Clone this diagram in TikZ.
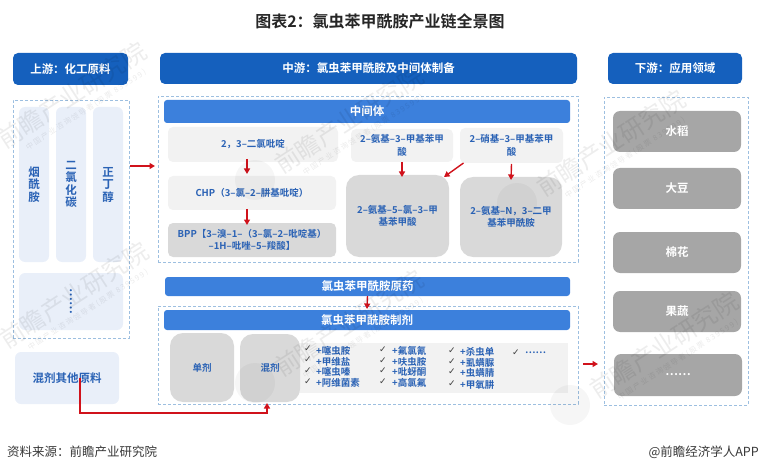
\documentclass[tikz,border=0pt]{standalone}
\usepackage{fontspec}
\setmainfont{Noto Sans CJK SC}[BoldFont={Noto Sans CJK SC Bold}]
\usetikzlibrary{arrows.meta,calc}
\definecolor{hdr}{HTML}{1560BD}
\definecolor{bar}{HTML}{3C80DC}
\definecolor{txt}{HTML}{2A62B5}
\definecolor{pale}{HTML}{E9EFF9}
\definecolor{lg}{HTML}{F2F2F2}
\definecolor{mg}{HTML}{D9D9D9}
\definecolor{dg}{HTML}{A6A6A6}
\definecolor{dash}{HTML}{9DBFE0}
\definecolor{rd}{HTML}{D0121B}
\tikzset{
 base/.style={inner sep=0pt,outer sep=0pt,align=center,font=\bfseries\fontsize{9.5}{12.5}\selectfont,text=txt,rounded corners=4pt},
 hdrbox/.style={base,fill=hdr,text=white,rounded corners=5pt,font=\bfseries\fontsize{11.5}{13}\selectfont},
 barbox/.style={base,fill=bar,text=white,rounded corners=3pt,font=\bfseries\fontsize{11.5}{13}\selectfont},
 palebox/.style={base,fill=pale,rounded corners=6pt,font=\bfseries\fontsize{11.5}{12.5}\selectfont},
 lightbox/.style={base,fill=lg,rounded corners=5pt},
 midbox/.style={base,fill=mg,rounded corners=5pt},
 bigbox/.style={base,fill=mg,rounded corners=13pt},
 appbox/.style={base,fill=dg,text=white,rounded corners=7pt,font=\bfseries\fontsize{11.5}{13}\selectfont},
 dashbox/.style={base,draw=dash,densely dashed,line width=0.8pt,rounded corners=0pt},
 ra/.style={draw=rd,line width=1.4pt,-{Triangle[length=5.5pt,width=6pt]}},
 item/.style={inner sep=0pt,anchor=west,text=txt,font=\bfseries\fontsize{9.5}{10}\selectfont},
 tick/.style={inner sep=0pt,text=black!75,font=\fontsize{9}{9}\selectfont},
 foot/.style={inner sep=0pt,text=black!78,font=\fontsize{12.5}{14}\selectfont},
 wm/.style={inner sep=0pt,rotate=33,text=black,text opacity=0.07,font=\fontsize{24.5}{26}\selectfont},
 wmsub/.style={inner sep=0pt,rotate=33,text=black,text opacity=0.08,font=\fontsize{7.5}{8}\selectfont\addfontfeature{LetterSpace=20}},
 wmlogo/.style={fill=black,fill opacity=0.035,draw=none},
}
\newfontfamily\symfont{DejaVu Sans}
\newcommand{\rb}[7]{% name,x1,y1,x2,y2,style,text
 \pgfmathsetmacro{\bw}{#4-#2}\pgfmathsetmacro{\bh}{#5-#3}
 \pgfmathsetmacro{\cx}{(#2+#4)/2}\pgfmathsetmacro{\cy}{(#3+#5)/2}
 \node[#6,minimum width=\bw pt,minimum height=\bh pt] (#1) at (\cx,\cy) {#7};}
\newcommand{\ck}[3]{\node[tick] (#1) at (#2,#3) {\symfont ✓};}
\newcommand{\wmk}[3]{%
 \fill[wmlogo] ($(#2,#3)+(-94,60)$) circle[radius=20];
 \node[wm] (w#1) at (#2,#3) {前瞻产业研究院};
 \node[wmsub] (ws#1) at ($(#2,#3)+(14,15)$) {中国产业咨询领导者(股票 839599)};}
\begin{document}
\begin{tikzpicture}[x=1pt,y=-1pt]
\useasboundingbox (0,0) rectangle (760,473);
\node[inner sep=0pt,font=\bfseries\fontsize{16}{18}\selectfont,text=black!85] (title) at (380,21) {图表2：氯虫苯甲酰胺产业链全景图};
% headers
\rb{hup}{13}{53}{128}{85}{hdrbox}{上游：化工原料}
\rb{hmid}{160}{53}{577}{84}{hdrbox}{中游：氯虫苯甲酰胺及中间体制备}
\rb{hdown}{608}{53}{742}{84}{hdrbox}{下游：应用领域}
% dashed frames
\rb{fup}{13}{100}{129}{338}{dashbox}{}
\rb{fmid}{158}{96}{578}{262}{dashbox}{}
\rb{ffor}{158}{306}{578}{404}{dashbox}{}
\rb{fdown}{604}{97}{748}{405}{dashbox}{}
% upstream
\rb{u1}{19}{107}{49}{262}{palebox}{烟\\酰\\胺}
\rb{u2}{56}{107}{86}{262}{palebox}{二\\氯\\化\\碳}
\rb{u3}{93}{107}{123}{262}{palebox}{正\\丁\\醇}
\rb{u4}{19}{273}{123}{330}{palebox}{\rotatebox{90}{……}}
\rb{u5}{15}{352}{119}{404}{palebox}{混剂其他原料}
% intermediates
\rb{mt}{164}{100}{570}{123}{barbox}{中间体}
\rb{a1}{168}{127}{338}{162}{lightbox}{2，3–二氯吡啶}
\rb{a2}{168}{176}{336}{210}{lightbox}{CHP（3–氯–2–肼基吡啶）}
\rb{a3}{168}{223}{336}{257}{midbox}{BPP【3–溴–1–（3–氯–2–吡啶基）\\–1H–吡唑–5–羧酸】}
\rb{b1}{351}{129}{453}{162}{lightbox}{2–氨基–3–甲基苯甲\\酸}
\rb{b2}{460}{128}{563}{163}{lightbox}{2–硝基–3–甲基苯甲\\酸}
\rb{c1}{346}{175}{449}{257}{bigbox}{2–氨基–5–氯–3–甲\\基苯甲酸}
\rb{c2}{460}{177}{562}{257}{bigbox}{2–氨基–N，3–二甲\\基苯甲酰胺}
% technical + formulation
\rb{tech}{165}{277}{570}{296}{barbox}{氯虫苯甲酰胺原药}
\rb{ft}{164}{310}{570}{330}{barbox}{氯虫苯甲酰胺制剂}
\rb{panel}{290}{343}{568}{393}{base,fill=lg,rounded corners=0pt}{}
\rb{s1}{170}{333}{234}{402}{bigbox}{单剂}
\rb{s2}{240}{334}{300}{402}{bigbox}{混剂}
\ck{k11}{308}{349}\node[item] (t11) at (316,351) {+噻虫胺};
\ck{k12}{308}{360}\node[item] (t12) at (316,362) {+甲维盐};
\ck{k13}{308}{371}\node[item] (t13) at (316,372) {+噻虫嗪};
\ck{k14}{308}{382}\node[item] (t14) at (316,383) {+阿维菌素};
\ck{k21}{383}{350}\node[item] (t21) at (392,351) {+氟氯氰};
\ck{k22}{383}{361}\node[item] (t22) at (392,362) {+呋虫胺};
\ck{k23}{383}{371}\node[item] (t23) at (392,372) {+吡蚜酮};
\ck{k24}{383}{382}\node[item] (t24) at (392,383) {+高氯氟};
\ck{k31}{452}{351}\node[item] (t31) at (460,352) {+杀虫单};
\ck{k32}{452}{362}\node[item] (t32) at (460,363) {+虱螨脲};
\ck{k33}{452}{372}\node[item] (t33) at (460,373) {+虫螨腈};
\ck{k34}{452}{384}\node[item] (t34) at (460,385) {+甲氧肼};
\ck{k41}{516}{353}\node[item] (t41) at (525,353) {……};
% downstream
\rb{d1}{613}{111}{741}{152}{appbox}{水稻}
\rb{d2}{613}{168}{741}{209}{appbox}{大豆}
\rb{d3}{613}{232}{741}{273}{appbox}{棉花}
\rb{d4}{613}{291}{741}{332}{appbox}{果蔬}
\rb{d5}{614}{354}{742}{396}{appbox}{……}
% connectors
\draw[ra] ([xshift=1pt,yshift=53pt]fup.east) -- ([xshift=-3pt,yshift=13pt]fmid.west);
\draw[ra] ([xshift=-6pt,yshift=3pt]a1.south) -- ([xshift=-5pt,yshift=2pt]a2.north);
\draw[ra] ([xshift=-5pt,yshift=1pt]a2.south) -- ([xshift=-5pt,yshift=-2pt]a3.north);
\draw[ra] (b1.south) -- ([xshift=4.5pt,yshift=-2pt]c1.north);
\draw[ra] ([xshift=-48pt]b2.south) -- ([xshift=-5pt,yshift=-2pt]c1.north east);
\draw[ra] ([yshift=-1pt]b2.south) -- ([yshift=-3pt]c2.north);
\draw[ra] (tech.south) -- ([yshift=1pt]ft.north);
\draw[ra] ([xshift=13pt]u5.center) -- ++(0,35) -| ([xshift=-3pt,yshift=-1pt]s2.south);
\draw[ra] ([xshift=5pt,yshift=-9pt]ffor.east) -- ([xshift=-6pt,yshift=-113pt]fdown.west);
% footer
\node[foot,anchor=west] (src) at (7,452) {资料来源：前瞻产业研究院};
\node[foot,anchor=east] (app) at (759,452) {@前瞻经济学人APP};
% watermark
\wmk{a}{72}{95}
\wmk{b}{74}{295}
\wmk{c}{349}{120}
\wmk{d}{349}{323}
\wmk{e}{611}{143}
\wmk{f}{664}{345}
\end{tikzpicture}
\end{document}
